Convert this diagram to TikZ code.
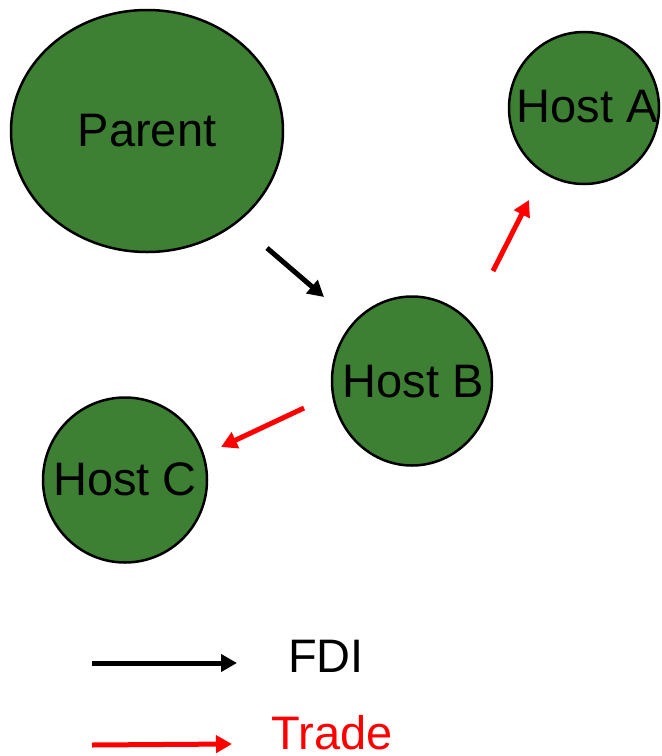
\documentclass[tikz,border=0pt]{standalone}
\usepackage{fontspec}
\setmainfont{Liberation Sans}
\usetikzlibrary{shapes.geometric,arrows.meta}
\definecolor{hostgreen}{RGB}{61,127,51}
\definecolor{tradered}{RGB}{255,0,0}
\tikzset{
  country/.style={ellipse, draw=black, line width=2.5pt, fill=hostgreen, inner sep=0pt},
  countryname/.style={font=\fontsize{47}{50}\selectfont, inner sep=0pt},
  flow/.style={line width=5pt, -{Triangle[length=16pt,width=17pt]}},
  fdi/.style={flow, draw=black},
  trade/.style={flow, draw=tradered},
  legendtext/.style={anchor=base, font=\fontsize{47}{50}\selectfont, inner sep=0pt}
}
\begin{document}
\begin{tikzpicture}[x=1pt,y=1pt]
  \useasboundingbox (0,0) rectangle (662,-756);
  % countries
  \node[country, minimum width=272pt, minimum height=242pt] (parent) at (147,-131) {};
  \node[country, minimum width=150pt, minimum height=152pt] (hosta) at (584,-108) {};
  \node[country, minimum width=160pt, minimum height=169pt] (hostb) at (412,-381) {};
  \node[country, minimum width=164pt, minimum height=165pt] (hostc) at (125,-480) {};
  \node[countryname] (parentL) at (147,-131) {Parent};
  \node[countryname] (hostaL) at (587,-107) {Host A};
  \node[countryname] (hostbL) at (413,-382) {Host B};
  \node[countryname] (hostcL) at (125,-479) {Host C};
  % flow arrow end points
  \coordinate (fdiS) at (267,-248);
  \coordinate (fdiE) at (324,-297);
  \coordinate (taS) at (493,-271);
  \coordinate (taE) at (529,-200);
  \coordinate (tcS) at (304,-408);
  \coordinate (tcE) at (221,-447);
  \draw[fdi] (fdiS) -- (fdiE);
  \draw[trade] (taS) -- (taE);
  \draw[trade] (tcS) -- (tcE);
  % legend
  \coordinate (lfS) at (92,-663);
  \coordinate (lfE) at (237,-663);
  \coordinate (ltS) at (92,-745);
  \coordinate (ltE) at (232,-744);
  \draw[fdi] (lfS) -- (lfE);
  \draw[trade] (ltS) -- (ltE);
  \node[legendtext] (lfdi) at (326,-672) {FDI};
  \node[legendtext, text=tradered] (ltrade) at (332,-749) {Trade};
\end{tikzpicture}
\end{document}
